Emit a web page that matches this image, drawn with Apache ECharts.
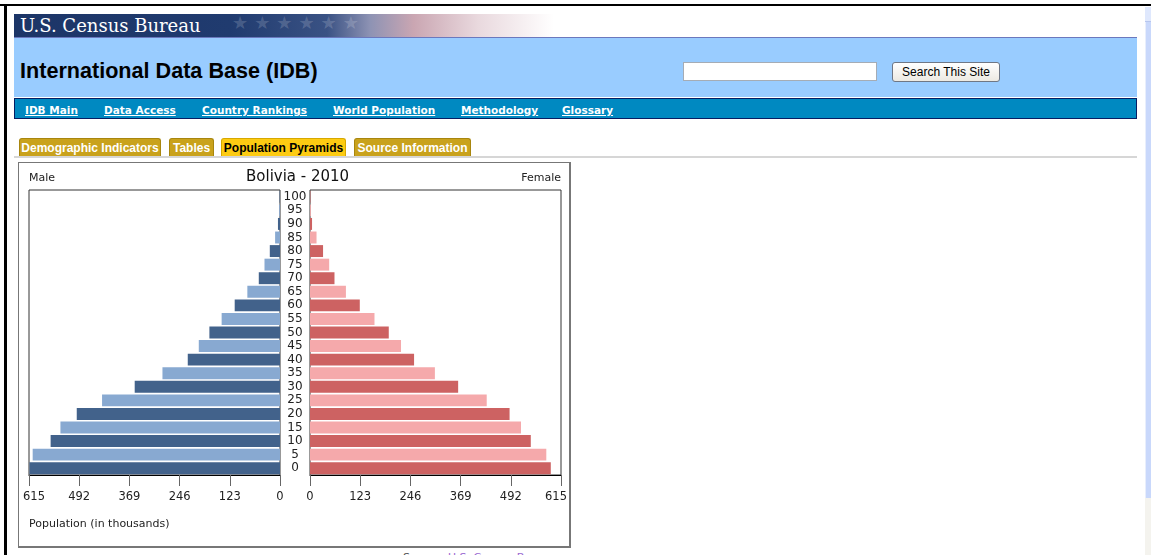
<!DOCTYPE html>
<html>
<head>
<meta charset="utf-8">
<script src="https://cdn.jsdelivr.net/npm/echarts@6/dist/echarts.min.js"></script>
<style>
  html, body { margin: 0; padding: 0; width: 1151px; height: 555px; overflow: hidden; background: #fff; }
  .abs { position: absolute; }
  .nav a { position: absolute; top: 5px; color: #fff; font: bold 10.5px "DejaVu Sans", sans-serif; text-decoration: underline; white-space: nowrap; }
  .tab { position: absolute; top: 138px; height: 19px; box-sizing: border-box; background: #c9a21c; border: 1px solid #a8860e; border-bottom: none;
         border-radius: 3px 3px 0 0; color: #fff; font: bold 12px "Liberation Sans Narrow", "Liberation Sans", sans-serif; font-stretch: condensed;
         line-height: 18px; text-align: center; white-space: nowrap; }
  .tab.on { background: #fdcb12; border-color: #d7a800; color: #000; }
</style>
</head>
<body>
<!-- window frame -->
<div class="abs" style="left:0;top:4px;width:1151px;height:2px;background:#000"></div>
<div class="abs" style="left:4px;top:4px;width:3px;height:551px;background:#000"></div>
<!-- scrollbar -->
<div class="abs" style="left:1145px;top:7px;width:6px;height:491px;background:#c9d8fb;border-left:1px solid #e8eefc"></div>
<div class="abs" style="left:1145px;top:7px;width:6px;height:14px;background:#dfe8fd;border-bottom:1px solid #b7c6ee"></div>
<div class="abs" style="left:1145px;top:498px;width:6px;height:57px;background:#f4f3ee"></div>

<!-- header -->
<div class="abs" style="left:14px;top:14px;width:540px;height:23px;background:linear-gradient(to right,#1c3567 0%,#203b6f 40%,#3a5284 58%,#8e93b4 66%,#caa6b2 74%,#e9d9de 86%,#ffffff 100%)"></div>
<div class="abs" style="left:232px;top:12px;color:rgba(255,255,255,0.18);font:18px 'DejaVu Sans';letter-spacing:6px">★★★★★★</div>
<div class="abs" style="left:20px;top:14px;color:#fff;font:18px 'DejaVu Serif',serif;line-height:23px">U.S. Census Bureau</div>
<div class="abs" style="left:14px;top:37px;width:1123px;height:60px;background:#99ccff;border-top:1px solid #6b78bd;box-sizing:border-box"></div>
<div class="abs" style="left:20px;top:58px;color:#000;font:bold 21.6px 'Liberation Sans',Arial,sans-serif;line-height:26px">International Data Base (IDB)</div>
<div class="abs" style="left:683px;top:62px;width:194px;height:19px;box-sizing:border-box;background:#fff;border:1px solid #a5acb5"></div>
<div class="abs" style="left:892px;top:62px;width:108px;height:20px;box-sizing:border-box;background:linear-gradient(#ffffff,#ece9e2);border:1px solid #6f7785;border-radius:3px;font:12px 'Liberation Sans',Arial,sans-serif;line-height:18px;text-align:center;color:#000">Search This Site</div>

<!-- nav -->
<div class="abs nav" style="left:14px;top:98px;width:1123px;height:21px;box-sizing:border-box;background:#0089c1;border:1px solid #071d63">
  <a style="left:10px">IDB Main</a>
  <a style="left:89px">Data Access</a>
  <a style="left:187px">Country Rankings</a>
  <a style="left:318px">World Population</a>
  <a style="left:446px">Methodology</a>
  <a style="left:547px">Glossary</a>
</div>

<!-- tabs -->
<div class="tab" style="left:19px;width:142px">Demographic Indicators</div>
<div class="tab" style="left:169px;width:45px">Tables</div>
<div class="tab on" style="left:221px;width:125px">Population Pyramids</div>
<div class="tab" style="left:354px;width:117px">Source Information</div>
<div class="abs" style="left:14px;top:156px;width:1123px;height:2px;background:#d6d6d6"></div>

<!-- chart -->
<div id="pyramid" class="abs" style="left:18px;top:162px;width:553px;height:386px;box-sizing:border-box;border:1px solid #777;border-right-width:2px;border-bottom-width:2px"></div>

<div class="abs" style="left:403px;top:551px;font:11px 'DejaVu Sans',sans-serif;color:#555;white-space:nowrap">Source: <span style="color:#9b6ad1;text-decoration:underline">U.S. Census Bureau</span></div>

<script>
// age groups, bottom to top
const ageGroups = ['0', '5', '10', '15', '20', '25', '30', '35', '40', '45', '50',
  '55', '60', '65', '70', '75', '80', '85', '90', '95', '100']
// population in thousands
const maleValues = [614, 606, 562, 538, 498, 436, 356, 288, 226, 199, 173,
  143, 111, 80, 52, 38, 25, 12, 5, 2, 1]
const femaleValues = [590, 579, 541, 517, 489, 433, 363, 306, 255, 223, 193,
  158, 122, 88, 60, 47, 32, 16, 5, 2, 1]
const axisMax = 615
const axisStep = 123
const title = 'Bolivia - 2010'

const maleColors = ['#42628b', '#88a9d1']
const femaleColors = ['#cd6262', '#f5a9ab']
const font = 'DejaVu Sans'

const myChart = echarts.init(document.getElementById('pyramid'))

const colored = (values, colors) => values.map((v, i) => ({
  value: v,
  itemStyle: { color: colors[i % 2] }
}))

// the outermost label is nudged inwards so it stays inside the box
const valueAxis = (grid, inverse) => ({
  type: 'value',
  gridIndex: grid,
  inverse: inverse,
  min: 0,
  max: axisMax,
  interval: axisStep,
  axisLine: { show: true, lineStyle: { color: '#000', width: 1 } },
  axisTick: { show: true, length: 11, lineStyle: { color: '#666' } },
  axisLabel: {
    margin: 16, fontSize: 11.5, color: '#222', fontFamily: font, showMinLabel: true, showMaxLabel: true,
    formatter: (v) => (v === axisMax ? '{edge|' + v + '}' : String(v)),
    rich: {
      edge: {
        fontSize: 11.5, color: '#222', fontFamily: font,
        padding: inverse ? [0, 0, 0, 10] : [0, 10, 0, 0]
      }
    }
  },
  splitLine: { show: false }
})

const option = {
  animation: false,
  grid: [
    { left: 10, top: 27, width: 251, height: 285, show: true, borderColor: '#333', borderWidth: 1, outerBoundsMode: 'none', containLabel: false },
    { left: 291, top: 27, width: 251, height: 285, show: true, borderColor: '#333', borderWidth: 1, outerBoundsMode: 'none', containLabel: false }
  ],
  xAxis: [valueAxis(0, true), valueAxis(1, false)],
  yAxis: [
    {
      type: 'category', gridIndex: 0, data: ageGroups,
      axisLine: { show: false }, axisTick: { show: false }, axisLabel: { show: false }
    },
    {
      type: 'category', gridIndex: 1, data: ageGroups, position: 'left',
      axisLine: { show: false }, axisTick: { show: false },
      axisLabel: { margin: 15, align: 'center', fontSize: 12, color: '#222', fontFamily: font, interval: 0 }
    }
  ],
  graphic: [
    { type: 'text', left: 10, top: 10, style: { text: 'Male', fontSize: 11, fontFamily: font, fill: '#222' } },
    { type: 'text', right: 8, top: 10, style: { text: 'Female', fontSize: 11, fontFamily: font, fill: '#222' } },
    { type: 'text', left: 227, top: 7, style: { text: title, fontSize: 15, fontFamily: font, fill: '#111' } },
    { type: 'text', left: 10, top: 356, style: { text: 'Population (in thousands)', fontSize: 11, fontFamily: font, fill: '#222' } }
  ],
  series: [
    {
      type: 'bar', xAxisIndex: 0, yAxisIndex: 0, barCategoryGap: '12%',
      data: colored(maleValues, maleColors)
    },
    {
      type: 'bar', xAxisIndex: 1, yAxisIndex: 1, barCategoryGap: '12%',
      data: colored(femaleValues, femaleColors)
    }
  ]
}
myChart.setOption(option)
</script>
</body>
</html>
